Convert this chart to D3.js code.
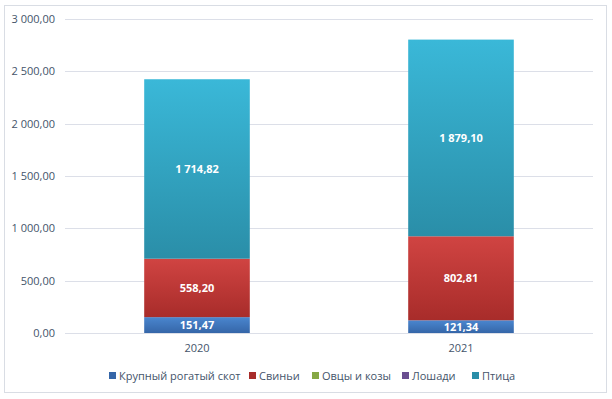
<!DOCTYPE html>
<html lang="ru">
<head>
<meta charset="UTF-8">
<title>Chart</title>
<script src="https://cdn.jsdelivr.net/npm/d3@7"></script>
<style>
    body { margin: 0; background: #fff; }
    svg { display: block; font-family: "Open Sans", "Liberation Sans", sans-serif; }
</style>
</head>
<body>
<div id="graphDiv"></div>
<script>
    // Data
    var years = ["2020", "2021"]
    var seriesNames = ["Крупный рогатый скот", "Свиньи", "Овцы и козы", "Лошади", "Птица"]
    var cattle = [151.47, 121.34]
    var pigs = [558.20, 802.81]
    var sheep = [0, 0]
    var horses = [0, 0]
    var poultry = [1714.82, 1879.10]
    var yTicks = [0, 500, 1000, 1500, 2000, 2500, 3000]

    var colorsTop = ["#4a86cf", "#d04442", "#a6c75f", "#8a6cb0", "#3ab8d8"]
    var colorsBottom = ["#3566a8", "#a82c2a", "#86a844", "#6a4e90", "#2a8ea8"]

    var width = 612, height = 399
    var margin = { left: 65, right: 19, top: 19, bottom: 66 }

    var svg = d3.select('#graphDiv').append('svg')
        .attr('width', width).attr('height', height)

    // chart frame
    svg.append('rect')
        .attr('x', 4.5).attr('y', 5.5)
        .attr('width', 602).attr('height', 387)
        .attr('fill', '#fff').attr('stroke', '#d9dde4')

    var defs = svg.append('defs')
    colorsTop.forEach((c, i) => {
        var g = defs.append('linearGradient').attr('id', 'grad' + i)
            .attr('x1', 0).attr('y1', 0).attr('x2', 0).attr('y2', 1)
        g.append('stop').attr('offset', '0%').attr('stop-color', c)
        g.append('stop').attr('offset', '100%').attr('stop-color', colorsBottom[i])
    })

    var x = d3.scaleBand().domain(years)
        .range([margin.left, width - margin.right])
        .paddingInner(0.6).paddingOuter(0.3)
    var y = d3.scaleLinear().domain([0, 3000])
        .range([height - margin.bottom, margin.top])

    // gridlines
    svg.append('g').selectAll('line').data(yTicks).enter().append('line')
        .attr('x1', margin.left).attr('x2', width - margin.right)
        .attr('y1', d => Math.round(y(d)) + 0.5).attr('y2', d => Math.round(y(d)) + 0.5)
        .attr('stroke', '#dcdfe8')

    var fmt = d3.formatLocale({ decimal: ",", thousands: "\u00a0", grouping: [3], currency: ["", ""] }).format(",.2f")

    svg.append('g').selectAll('text').data(yTicks).enter().append('text')
        .attr('x', 55).attr('y', d => y(d) + 4)
        .attr('text-anchor', 'end')
        .attr('font-size', 11).attr('fill', '#44546a')
        .text(d => fmt(d))

    // stack
    var rows = years.map((yr, i) => ({
        year: yr, s0: cattle[i], s1: pigs[i], s2: sheep[i], s3: horses[i], s4: poultry[i]
    }))
    var stack = d3.stack().keys(["s0", "s1", "s2", "s3", "s4"])(rows)

    var layers = svg.append('g').selectAll('g').data(stack).enter().append('g')
        .attr('fill', (d, i) => 'url(#grad' + i + ')')

    layers.selectAll('rect').data(d => d).enter().append('rect')
        .attr('x', d => x(d.data.year))
        .attr('width', x.bandwidth())
        .attr('y', d => y(d[1]))
        .attr('height', d => y(d[0]) - y(d[1]))

    // data labels
    var labelG = svg.append('g')
    stack.forEach((layer, i) => {
        layer.forEach(d => {
            var v = d[1] - d[0]
            if (v <= 0) return
            labelG.append('text')
                .attr('x', x(d.data.year) + x.bandwidth() / 2)
                .attr('y', (y(d[0]) + y(d[1])) / 2 + 4)
                .attr('text-anchor', 'middle')
                .attr('font-size', 11).attr('font-weight', 'bold')
                .attr('fill', '#fff')
                .text(fmt(v))
        })
    })

    // x axis labels
    svg.append('g').selectAll('text').data(years).enter().append('text')
        .attr('x', d => x(d) + x.bandwidth() / 2)
        .attr('y', 352)
        .attr('text-anchor', 'middle')
        .attr('font-size', 11).attr('fill', '#44546a')
        .text(d => d)

    // legend
    var legendX = [109, 249, 312, 402, 472]
    var leg = svg.append('g').selectAll('g').data(seriesNames).enter().append('g')
        .attr('transform', (d, i) => `translate(${legendX[i]},372)`)
    leg.append('rect').attr('width', 7).attr('height', 7)
        .attr('fill', (d, i) => colorsBottom[i])
    leg.append('text').attr('x', 10).attr('y', 7.5)
        .attr('font-size', 11).attr('fill', '#44546a')
        .text(d => d)
</script>
</body>
</html>
